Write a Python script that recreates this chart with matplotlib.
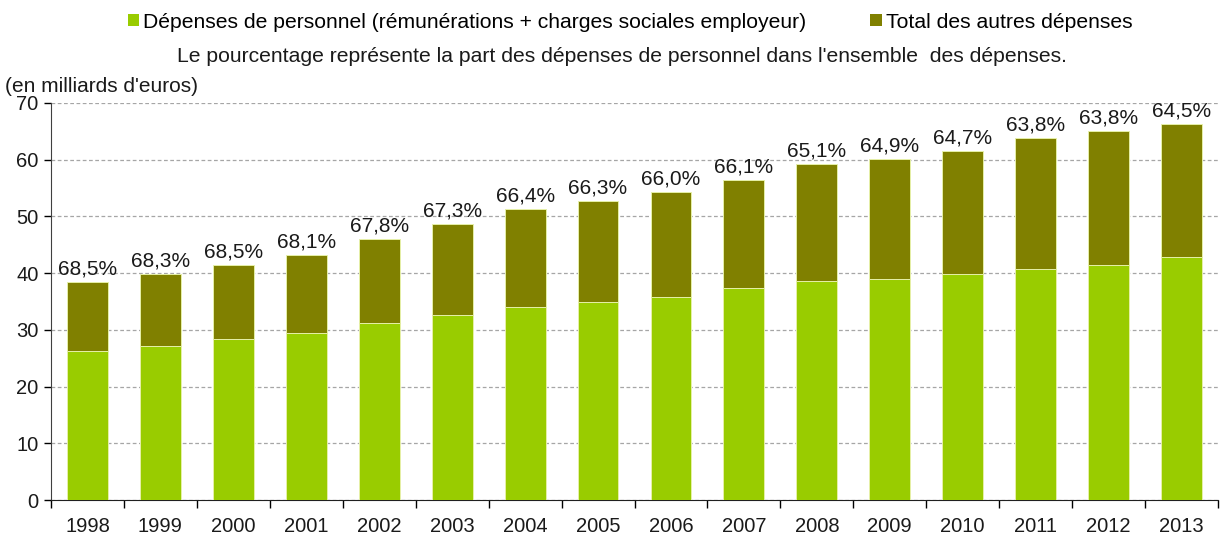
import numpy as np
import matplotlib.pyplot as plt
from matplotlib.patches import Patch

plt.rcParams['font.family'] = ['Liberation Sans', 'DejaVu Sans']

years = ['1998', '1999', '2000', '2001', '2002', '2003', '2004', '2005',
         '2006', '2007', '2008', '2009', '2010', '2011', '2012', '2013']
personnel = [26.3, 27.2, 28.3, 29.4, 31.2, 32.7, 34.0, 34.9,
             35.8, 37.3, 38.6, 39.0, 39.8, 40.7, 41.5, 42.8]
totals = [38.4, 39.8, 41.4, 43.2, 46.1, 48.6, 51.3, 52.7,
          54.3, 56.5, 59.2, 60.1, 61.5, 63.8, 65.1, 66.3]
pct_labels = ['68,5%', '68,3%', '68,5%', '68,1%', '67,8%', '67,3%', '66,4%', '66,3%',
              '66,0%', '66,1%', '65,1%', '64,9%', '64,7%', '63,8%', '63,8%', '64,5%']
others = [t - p for t, p in zip(totals, personnel)]

c_pers = '#99cc00'
c_other = '#808000'
txt = '#1a1a1a'

fig = plt.figure(figsize=(12.26, 5.34), dpi=100)
ax = fig.add_axes([51 / 1226, 1 - 500 / 534, (1218 - 51) / 1226, (500 - 103) / 534])

x = np.arange(len(years))
ax.bar(x, personnel, width=0.56, color=c_pers, edgecolor='#e6f0a8', linewidth=0.7, zorder=3)
ax.bar(x, others, bottom=personnel, width=0.56, color=c_other, edgecolor='#e6f0a8',
       linewidth=0.7, zorder=3)

for xi, t, lab in zip(x, totals, pct_labels):
    ax.text(xi, t + 0.6, lab, ha='center', va='bottom', fontsize=15, color=txt)

ax.set_xlim(-0.5, len(years) - 0.5)
ax.set_ylim(0, 70)
ax.set_yticks(range(0, 71, 10))
ax.set_xticks(x)
ax.set_xticklabels(years)
ax.set_xticks(np.arange(-0.5, len(years), 1), minor=True)
ax.tick_params(axis='x', which='major', length=0, pad=12, labelsize=14.5, labelcolor=txt)
ax.tick_params(axis='x', which='minor', length=6, width=1, direction='out')
ax.tick_params(axis='y', length=5, width=1, direction='out', labelsize=14.5, pad=4,
               labelcolor=txt)

ax.yaxis.grid(True, linestyle=(0, (3, 2)), color='#a6a6a6', linewidth=0.9, zorder=0)
ax.set_axisbelow(True)
for s in ['top', 'right']:
    ax.spines[s].set_visible(False)
ax.spines['left'].set_color('#404040')
ax.spines['bottom'].set_color('#202020')

handles = [Patch(facecolor=c_pers, edgecolor='none'), Patch(facecolor=c_other, edgecolor='none')]
fig.legend(handles, ['Dépenses de personnel (rémunérations + charges sociales employeur)',
                     'Total des autres dépenses'],
           loc='center', bbox_to_anchor=(630 / 1226, 1 - 22 / 534), ncol=2, frameon=False,
           fontsize=15.2, handlelength=0.55, handleheight=0.55, handletextpad=0.2,
           columnspacing=3.0)

fig.text(622 / 1226, 1 - 57 / 534,
         "Le pourcentage représente la part des dépenses de personnel dans l'ensemble  des dépenses.",
         ha='center', va='center', fontsize=15.2, color=txt)
fig.text(5 / 1226, 1 - 86 / 534, "(en milliards d'euros)", ha='left', va='center',
         fontsize=15, color=txt)

fig.savefig('out.png', dpi=100)
